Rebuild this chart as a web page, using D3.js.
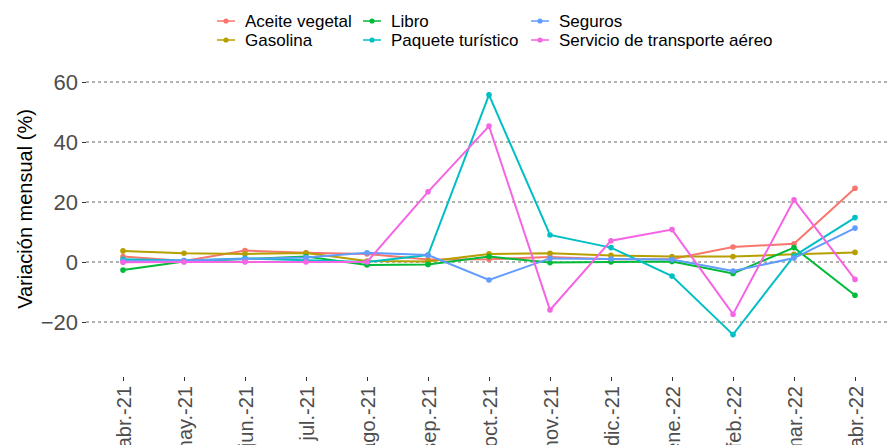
<!DOCTYPE html>
<html>
<head>
<meta charset="utf-8">
<script src="https://cdn.jsdelivr.net/npm/d3@7.9.0/dist/d3.min.js"></script>
<style>
  body { margin: 0; background: #fff; }
  svg { display: block; font-family: "Liberation Sans", Arial, sans-serif; }
</style>
</head>
<body>
<svg id="chart" width="887" height="445"></svg>
<script>
// months on the x axis
const months = ["abr.-21", "may.-21", "jun.-21", "jul.-21", "ago.-21", "sep.-21", "oct.-21",
  "nov.-21", "dic.-21", "ene.-22", "feb.-22", "mar.-22", "abr.-22"];

// monthly variation (%) per product
const aceite   = [1.8, 0.3, 3.8, 3.1, 2.7, 0.8, 0.9, 1.7, 0.9, 1.0, 5.0, 6.1, 24.6];
const gasolina = [3.7, 2.9, 2.7, 3.0, 0.3, 0.2, 2.7, 2.9, 2.2, 1.8, 1.8, 2.6, 3.2];
const libro    = [-2.7, 0.2, 1.0, 1.8, -1.0, -0.8, 1.8, -0.2, 0.0, 0.2, -3.8, 4.8, -11.1];
const paquete  = [0.9, 0.5, 1.2, 0.6, 0.0, 2.3, 55.7, 9.0, 4.8, -4.7, -24.2, 2.0, 14.8];
const seguros  = [0.3, 0.5, 1.0, 1.5, 3.1, 2.3, -6.0, 1.2, 1.0, 0.8, -3.0, 1.3, 11.3];
const servicio = [-0.1, 0.0, 0.0, 0.0, 0.0, 23.4, 45.3, -16.0, 7.1, 10.8, -17.4, 20.7, -5.8];

const seriesNames = ["Aceite vegetal", "Gasolina", "Libro", "Paquete turístico", "Seguros",
  "Servicio de transporte aéreo"];
const seriesValues = [aceite, gasolina, libro, paquete, seguros, servicio];
const colors = ["#F8766D", "#B79F00", "#00BA38", "#00BFC4", "#619CFF", "#F564E3"];
const yTicks = [-20, 0, 20, 40, 60];

const svg = d3.select("#chart");

const x = d3.scalePoint().domain(months).range([123, 855]);
const y = d3.scaleLinear().domain([-20, 60]).range([322, 82]);
const panelLeft = 86, panelBottom = 377;

// gridlines
svg.append("g")
  .selectAll("line")
  .data(yTicks)
  .join("line")
  .attr("x1", panelLeft).attr("x2", 887)
  .attr("y1", d => y(d)).attr("y2", d => y(d))
  .attr("stroke", "#555").attr("stroke-width", 0.9)
  .attr("stroke-dasharray", "3,3");

// y axis
const yAxis = svg.append("g")
  .attr("transform", `translate(${panelLeft},0)`)
  .call(d3.axisLeft(y).tickValues(yTicks).tickSize(4).tickPadding(4));
yAxis.select(".domain").remove();
yAxis.selectAll(".tick line").attr("stroke", "#333");
yAxis.selectAll(".tick text")
  .attr("fill", "#4D4D4D")
  .style("font-size", "22px");

// x axis
const xAxis = svg.append("g")
  .attr("transform", `translate(0,${panelBottom})`)
  .call(d3.axisBottom(x).tickSize(4).tickPadding(4));
xAxis.select(".domain").remove();
xAxis.selectAll(".tick line").attr("stroke", "#333");
xAxis.selectAll(".tick text")
  .attr("fill", "#4D4D4D")
  .style("font-size", "20px")
  .attr("text-anchor", "end")
  .attr("dy", "0.35em")
  .attr("x", -9)
  .attr("y", 0)
  .attr("transform", "rotate(-90)");

// y title
svg.append("text")
  .attr("transform", "translate(32,209) rotate(-90)")
  .attr("text-anchor", "middle")
  .style("font-size", "20px")
  .attr("fill", "#000")
  .text("Variación mensual (%)");

// lines and points
const line = d3.line()
  .x((d, i) => x(months[i]))
  .y(d => y(d));

const series = svg.append("g")
  .selectAll("g")
  .data(seriesValues)
  .join("g");

series.append("path")
  .attr("d", d => line(d))
  .attr("fill", "none")
  .attr("stroke", (d, i) => colors[i])
  .attr("stroke-width", 2);

series.each(function (vals, i) {
  d3.select(this).selectAll("circle")
    .data(vals)
    .join("circle")
    .attr("cx", (d, j) => x(months[j]))
    .attr("cy", d => y(d))
    .attr("r", 2.8)
    .attr("fill", colors[i]);
});

// legend (3 columns, filled by column)
const legendCols = [217, 363, 531];
const legendRows = [21, 40];
const legend = svg.append("g")
  .selectAll("g")
  .data(seriesNames)
  .join("g")
  .attr("transform", (d, i) => `translate(${legendCols[Math.floor(i / 2)]},${legendRows[i % 2]})`);

legend.append("line")
  .attr("x1", 0).attr("x2", 18)
  .attr("stroke", (d, i) => colors[i])
  .attr("stroke-width", 1.5);
legend.append("circle")
  .attr("cx", 9).attr("r", 2.6)
  .attr("fill", (d, i) => colors[i]);
legend.append("text")
  .attr("x", 28)
  .attr("dy", "0.35em")
  .style("font-size", "17px")
  .attr("fill", "#000")
  .text(d => d);
</script>
</body>
</html>
